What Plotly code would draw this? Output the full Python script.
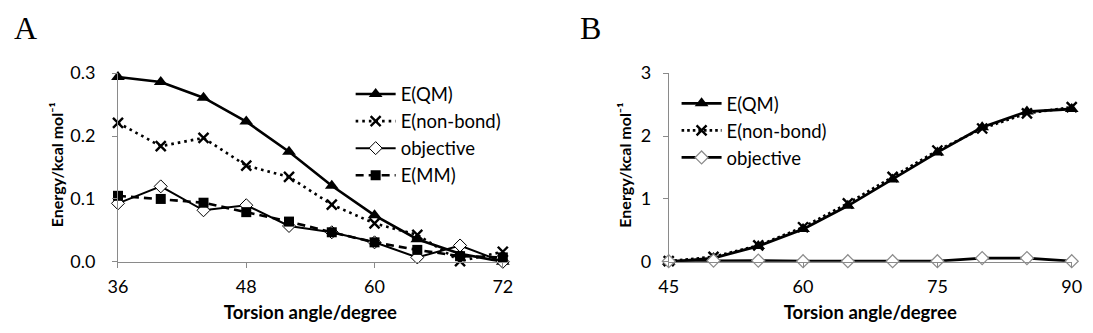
import plotly.graph_objects as go

# ---------------- data ----------------
angle_a = [36, 40, 44, 48, 52, 56, 60, 64, 68, 72]
qm_a = [0.294, 0.286, 0.261, 0.223, 0.175, 0.121, 0.074, 0.036, 0.013, 0.000]
nonbond_a = [0.221, 0.184, 0.197, 0.153, 0.135, 0.091, 0.061, 0.043, 0.001, 0.016]
objective_a = [0.093, 0.120, 0.082, 0.090, 0.057, 0.047, 0.031, 0.007, 0.026, 0.000]
mm_a = [0.105, 0.100, 0.094, 0.079, 0.064, 0.047, 0.031, 0.019, 0.009, 0.007]

angle_b = [45, 50, 55, 60, 65, 70, 75, 80, 85, 90]
qm_b = [0.00, 0.06, 0.25, 0.52, 0.89, 1.31, 1.74, 2.14, 2.39, 2.43]
nonbond_b = [0.01, 0.08, 0.26, 0.55, 0.93, 1.35, 1.77, 2.12, 2.36, 2.46]
objective_b = [0.01, 0.02, 0.02, 0.01, 0.01, 0.01, 0.01, 0.06, 0.06, 0.01]

xticks_a = [36, 48, 60, 72]
yticks_a = [0.0, 0.1, 0.2, 0.3]
xticks_b = [45, 60, 75, 90]
yticks_b = [0, 1, 2, 3]

FONT = "Lato"
W, H = 1093, 333

fig = go.Figure()

# ---- panel A ----
fig.add_trace(go.Scatter(x=angle_a, y=qm_a, name="E(QM)", mode="lines+markers",
                         line=dict(color="black", width=2.6),
                         marker=dict(symbol="triangle-up", size=12, color="black"),
                         xaxis="x", yaxis="y", legend="legend", legendgroup="a1", cliponaxis=False))
fig.add_trace(go.Scatter(x=angle_a, y=nonbond_a, name="E(non-bond)", mode="lines+markers",
                         line=dict(color="black", width=2.6, dash="2.6px,4px"),
                         marker=dict(symbol="x-thin-open", size=10, color="black",
                                     line=dict(color="black", width=2.4)),
                         xaxis="x", yaxis="y", legend="legend", legendgroup="a2", cliponaxis=False))
fig.add_trace(go.Scatter(x=angle_a, y=objective_a, name="objective", mode="lines+markers",
                         line=dict(color="black", width=2),
                         marker=dict(symbol="diamond", size=10, color="white",
                                     line=dict(color="black", width=1)),
                         xaxis="x", yaxis="y", legend="legend", legendgroup="a3", cliponaxis=False))
fig.add_trace(go.Scatter(x=angle_a, y=mm_a, name="E(MM)", mode="lines+markers",
                         line=dict(color="black", width=2.6, dash="8px,5px"),
                         marker=dict(symbol="square", size=10, color="black"),
                         xaxis="x", yaxis="y", legend="legend", legendgroup="a4", cliponaxis=False))

# ---- panel B ----
fig.add_trace(go.Scatter(x=angle_b, y=qm_b, name="E(QM)", mode="lines+markers",
                         line=dict(color="black", width=2.8),
                         marker=dict(symbol="triangle-up", size=12, color="black"),
                         xaxis="x2", yaxis="y2", legend="legend2", legendgroup="b1", cliponaxis=False))
fig.add_trace(go.Scatter(x=angle_b, y=nonbond_b, name="E(non-bond)", mode="lines+markers",
                         line=dict(color="black", width=2.6, dash="2.6px,3px"),
                         marker=dict(symbol="x-thin-open", size=10, color="black",
                                     line=dict(color="black", width=2.4)),
                         xaxis="x2", yaxis="y2", legend="legend2", legendgroup="b2", cliponaxis=False))
fig.add_trace(go.Scatter(x=angle_b, y=objective_b, name="objective", mode="lines+markers",
                         line=dict(color="black", width=2.8),
                         marker=dict(symbol="diamond", size=10, color="white",
                                     line=dict(color="#8c8c8c", width=1.2)),
                         xaxis="x2", yaxis="y2", legend="legend2", legendgroup="b3", cliponaxis=False))

y_dom = [1 - 267.5 / H, 1 - 65.5 / H]

axis_x = dict(showgrid=False, zeroline=False, showline=True, linecolor="#8a8a8a",
              linewidth=1, ticks="outside", tickcolor="#8a8a8a", ticklen=5, tickwidth=1,
              ticklabelstandoff=4, tickfont=dict(family=FONT, size=18, color="black"))
axis_y = dict(showgrid=False, zeroline=False, showline=True, linecolor="#8a8a8a",
              linewidth=1, ticks="outside", tickcolor="#8a8a8a", ticklen=5, tickwidth=1,
              tickfont=dict(family=FONT, size=18, color="black"))
xtitle = dict(text="<b>Torsion angle/degree</b>", font=dict(family=FONT, size=18.5, color="black"), standoff=9)
YTITLE = "<b>Energy/kcal mol⁻¹</b>"
yfont = dict(family=FONT, size=16, color="black")

fig.update_layout(
    width=W, height=H, margin=dict(l=0, r=0, t=0, b=0),
    paper_bgcolor="white", plot_bgcolor="white",
    xaxis=dict(domain=[110 / W, 502 / W], range=[36, 72], tickvals=xticks_a,
               anchor="y", title=xtitle, **axis_x),
    yaxis=dict(domain=y_dom, range=[0, 0.3], tickvals=yticks_a, tickformat=".1f",
               anchor="x", ticklabelstandoff=13, **axis_y),
    xaxis2=dict(domain=[671 / W, 1081.5 / W], range=[45, 90], tickvals=xticks_b,
                anchor="y2", title=xtitle, **axis_x),
    yaxis2=dict(domain=y_dom, range=[0, 3], tickvals=yticks_b,
                anchor="x2", ticklabelstandoff=8, **axis_y),
    legend=dict(x=347 / W, y=1 - 68 / H, xanchor="left", yanchor="top",
                font=dict(family=FONT, size=18.5, color="black"), bgcolor="rgba(0,0,0,0)",
                itemwidth=40, tracegroupgap=15, traceorder="normal"),
    legend2=dict(x=679 / W, y=1 - 78 / H, xanchor="left", yanchor="top",
                 font=dict(family=FONT, size=18.5, color="black"), bgcolor="rgba(0,0,0,0)",
                 itemwidth=40, tracegroupgap=15, traceorder="normal"),
    annotations=[
        dict(text="A", x=2 / W, y=1 + 4 / H, xref="paper", yref="paper", xanchor="left",
             yanchor="top", showarrow=False, font=dict(family="Liberation Serif", size=32, color="black")),
        dict(text="B", x=579 / W, y=1 + 4 / H, xref="paper", yref="paper", xanchor="left",
             yanchor="top", showarrow=False, font=dict(family="Liberation Serif", size=32, color="black")),
        dict(text=YTITLE, textangle=-90, x=47 / W, y=1 - 164 / H, xref="paper", yref="paper",
             xanchor="center", yanchor="middle", showarrow=False, font=yfont),
        dict(text=YTITLE, textangle=-90, x=626 / W, y=1 - 164 / H, xref="paper", yref="paper",
             xanchor="center", yanchor="middle", showarrow=False, font=yfont),
    ],
)

fig.write_html("out.html", config={"displayModeBar": False},
               post_script="document.body.style.margin='0';")
